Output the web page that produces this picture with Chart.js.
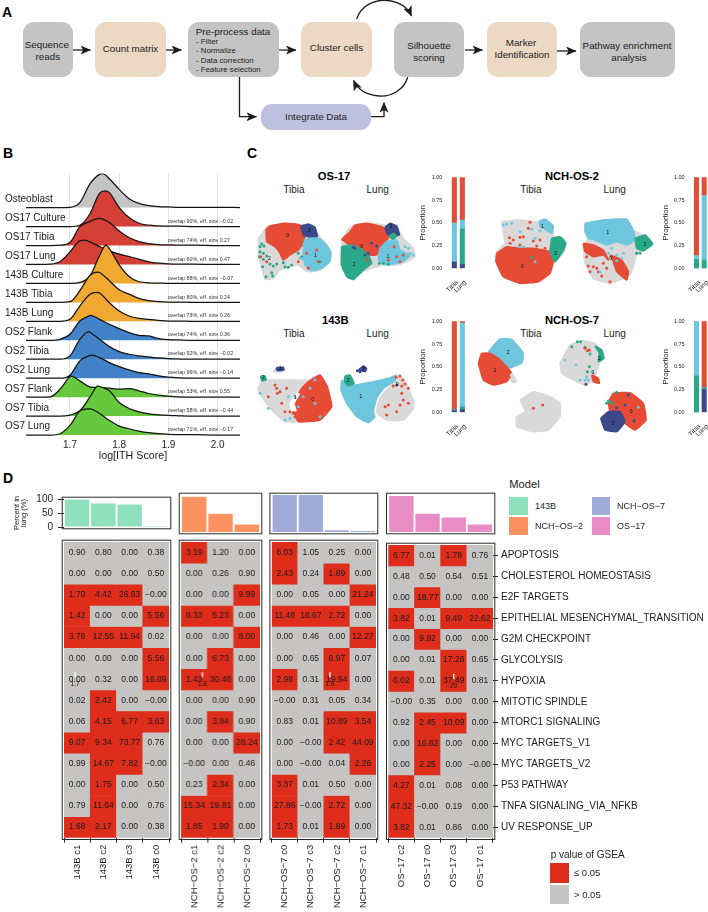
<!DOCTYPE html>
<html><head><meta charset="utf-8">
<script src="https://cdn.jsdelivr.net/npm/chart.js@4"></script>
<style>
html,body{margin:0;padding:0;background:#fff}
#page{position:relative;width:708px;height:912px;overflow:hidden;font-family:"Liberation Sans",Arial,sans-serif;color:#1c1c1c}
canvas{position:absolute}
.t{position:absolute;white-space:nowrap;line-height:1}
.c{transform:translate(-50%,-50%)}
.l{transform:translate(0,-50%)}
.box{position:absolute;border-radius:11px}
.sw{position:absolute}
svg{position:absolute;left:0;top:0}
</style></head><body><div id="page">
<svg width="708" height="140" viewBox="0 0 708 140"><defs>
<marker id="ah" markerUnits="userSpaceOnUse" markerWidth="11" markerHeight="9" refX="10" refY="4.5" orient="auto"><path d="M0,0 L10.5,4.5 L0,9 L2.6,4.5 z" fill="#1c1c1c"/></marker></defs>
<g fill="none" stroke="#1c1c1c" stroke-width="1.3" marker-end="url(#ah)">
<path d="M73,50 H90.5"/><path d="M163,50 H181.5"/><path d="M278,50 H296"/><path d="M465,50 H482.5"/><path d="M557,51 H576"/>
<path d="M239.5,77 V116.7 H256.5"/><path d="M371,116.7 H384 V102.5"/>
<path d="M356.7,19 C361,5 376,-1 388,0.5 C400,2 408,8 411.5,16"/>
<path d="M407.7,77.3 C404,90 391,97 379,96 C367,95 358,90 353.5,80.5"/>
</g></svg>
</div>
<script>
// ---- Panel B: ridgeline densities ----
const ridgeX = [1.61,1.64,1.66,1.68,1.70,1.72,1.74,1.76,1.78,1.80,1.82,1.84,1.86,1.88,1.90,1.92,1.95,2.00,2.05];
const ridgeLabels = ['Osteoblast','OS17 Culture','OS17 Tibia','OS17 Lung','143B Culture','143B Tibia','143B Lung','OS2 Flank','OS2 Tibia','OS2 Lung','OS7 Flank','OS7 Tibia','OS7 Lung'];
const ridgeColors = ['#c4c4c4','#d43f36','#d43f36','#d43f36','#f0a830','#f0a830','#f0a830','#4282c8','#4282c8','#4282c8','#66c83c','#66c83c','#66c83c'];
const ridgeNotes = ['','overlap 90%, eff. size −0.02','overlap 74%, eff. size 0.27','overlap 60%, eff. size 0.47','overlap 88%, eff. size −0.07','overlap 80%, eff. size 0.24','overlap 73%, eff. size 0.26','overlap 74%, eff. size 0.36','overlap 92%, eff. size −0.02','overlap 96%, eff. size −0.14','overlap 53%, eff. size 0.55','overlap 58%, eff. size −0.44','overlap 71%, eff. size −0.17'];
const dOsteoblast = [0,0,0,0,.1,1.5,7,10,8.7,5.5,2.7,1.3,.6,.3,.2,.1,.1,.1,0];
const dOs17Culture = [0,0,0,0,0,.4,3.7,10,10.2,5.7,2.7,1,.4,.2,.1,.1,0,0,0];
const dOs17Tibia = [0,0,0,.1,.9,5.7,7.2,8.2,6.9,4.4,2.4,1.2,.6,.3,.2,.1,.1,0,0];
const dOs17Lung = [0,0,.1,.9,3.8,7.1,6.8,5.4,4.1,3.1,2.4,1.6,.8,.4,.2,.1,.1,0,0];
const d143bCulture = [0,0,0,0,0,.3,2.1,8.3,10.5,5.6,2.1,.5,.2,.1,0,0,0,0,0];
const d143bTibia = [0,0,0,0,.2,3.5,8,9,6.5,3.8,2.5,1.2,.5,.2,.1,.1,0,0,0];
const d143bLung = [0,0,0,0,.6,4.6,8.1,8.5,5.6,3.1,1.6,.9,.6,.3,.1,.1,0,0,0];
const dOs2Flank = [0,0,0,.3,1.8,5.8,7.4,6.3,4.8,3.5,2.3,1.5,1.3,.5,.2,.1,0,0,0];
const dOs2Tibia = [0,0,0,0,1,6,8.2,6,3.8,2.3,1.5,1,.7,.4,.2,.1,0,0,0];
const dOs2Lung = [0,0,0,0,.9,5.2,6.8,6.2,4.7,3.5,2.5,1.7,1.3,.7,.3,.1,0,0,0];
const dOs7Flank = [0,0,.1,2.4,6.2,4.9,3.1,2.9,2.7,2.4,2.6,1.9,1.1,.6,.3,.1,0,0,0];
const dOs7Tibia = [0,0,0,0,.3,1.6,5.6,8.9,7.6,4.1,2.3,1.3,.7,.4,.2,.1,0,0,0];
const dOs7Lung = [0,0,0,.4,2.9,7.2,7.9,6.5,4.4,2.7,1.9,1.2,.7,.4,.2,.1,.1,0,0];
const ridgeDensity = [dOsteoblast,dOs17Culture,dOs17Tibia,dOs17Lung,d143bCulture,d143bTibia,d143bLung,dOs2Flank,dOs2Tibia,dOs2Lung,dOs7Flank,dOs7Tibia,dOs7Lung];
const ridgePeakX = [1.766,1.771,1.759,1.73,1.773,1.756,1.754,1.742,1.739,1.743,1.702,1.757,1.737];
const ridgePeakD = [10.2,10.7,8.2,7.3,11.5,9.1,8.7,7.5,8.3,6.9,6.3,9.1,7.9];

// ---- Panel C: cluster maps, outlines and single cells ----
const UMAP_GRAY='#d9d9d9',UMAP_RED='#e64b35',UMAP_BLUE='#6ec6de',UMAP_GREEN='#2aa88a',UMAP_NAVY='#3c4a8c';
const os17TibiaGray=[[55,295],[75,270],[85,258],[130,250],[180,255],[215,258],[240,290],[265,320],[275,345],[260,375],[235,392],[200,395],[175,375],[150,380],[120,390],[100,415],[75,418],[65,385],[55,350]];
const os17TibiaRed=[[78,268],[90,258],[135,250],[180,255],[195,290],[190,310],[175,330],[150,345],[130,360],[120,340],[105,320],[80,305]];
const os17TibiaNavy=[[182,258],[205,252],[225,262],[232,290],[210,292],[190,285]];
const os17TibiaBlue=[[190,310],[205,295],[235,295],[255,310],[272,335],[270,365],[245,385],[215,392],[195,375],[190,345]];
const os17TibiaGreenDots=[[60,320],[65,312],[72,318],[60,335],[70,340],[58,350],[70,358],[80,348],[68,380],[90,372],[110,372],[100,378],[130,368],[135,380],[145,382],[155,375],[95,398],[78,410],[98,408],[175,340],[185,350],[240,365]];
const os17TibiaRedDots=[[62,350],[80,365],[205,385],[230,330],[235,365],[200,340],[175,365]];
const os17TibiaBlueDots=[[195,300],[180,355],[190,358]];
const os17LungGray=[[305,300],[330,262],[380,250],[430,255],[470,260],[490,295],[520,325],[525,350],[500,365],[470,375],[430,375],[395,385],[370,395],[340,420],[320,410],[302,370]];
const os17LungRed=[[305,298],[330,275],[345,255],[380,250],[430,262],[445,280],[445,295],[420,320],[410,345],[385,345],[350,325],[320,310]];
const os17LungGreen=[[305,320],[335,315],[360,325],[385,345],[395,370],[370,390],[340,418],[322,412],[305,375]];
const os17LungNavy=[[435,262],[450,250],[470,258],[478,285],[455,290],[440,280]];
const os17LungBlue=[[420,325],[440,305],[470,300],[480,330],[510,345],[490,365],[440,375],[415,360]];
const os17LungGreen2=[[448,288],[460,280],[470,288],[458,298]];
const os17LungRedDots=[[462,320],[480,365],[445,360],[470,350],[490,345],[382,360]];
const os17LungNavyDots=[[340,322],[395,310],[410,318],[385,340],[375,345],[345,325]];
const os17LungGreenDots=[[418,370],[430,370],[445,372]];
const os17LungBlueDots=[[495,320],[510,340],[520,345],[505,325],[470,310],[488,335]];
const b143TibiaGray=[[52,745],[70,720],[150,720],[205,720],[240,705],[260,740],[275,800],[240,840],[175,845],[135,845],[100,815],[65,770]];
const b143TibiaGray2=[[100,695],[112,680],[132,685],[125,695]];
const b143TibiaRed=[[205,725],[240,705],[262,740],[275,800],[240,840],[175,845],[160,810],[165,780],[185,745]];
const b143TibiaHole=[[150,790],[170,762],[178,762],[162,790],[168,812],[155,810]];
const b143TibiaNavy=[[108,684],[130,682],[132,690],[112,692]];
const b143TibiaGreen=[[62,708],[75,708],[78,720],[65,722]];
const b143TibiaRedDots=[[110,745],[105,735],[112,760],[85,770],[120,755],[135,815],[150,815],[160,820],[165,830],[125,790],[140,745]];
const b143TibiaBlueDots=[[60,760],[85,805],[135,840],[150,835],[145,770],[210,745],[225,720],[240,830],[225,790],[165,770],[175,800],[190,770]];
const b143LungBlue=[[305,720],[320,735],[345,735],[400,725],[445,715],[470,705],[470,720],[430,745],[410,775],[400,815],[405,830],[385,848],[350,830],[320,790],[303,750]];
const b143LungGray=[[470,705],[490,715],[520,780],[520,805],[490,840],[440,840],[418,825],[410,815],[420,775],[440,750],[470,722]];
const b143LungGreen=[[315,708],[330,705],[342,730],[325,738],[313,725]];
const b143LungNavy=[[355,690],[370,678],[380,685],[375,695]];
const b143LungRedDots=[[468,712],[480,708],[488,720],[495,732],[485,738],[460,738],[435,800],[445,795],[485,760],[505,745],[490,780],[480,795],[470,815],[440,825],[505,790]];
const b143LungNavyDots=[[470,735],[360,695],[352,692]];
const os2TibiaGray=[[95,245],[150,240],[200,245],[225,238],[250,260],[250,290],[280,295],[285,330],[255,365],[240,400],[205,425],[150,430],[100,410],[78,365],[80,335],[105,310],[100,280]];
const os2TibiaRed=[[80,340],[110,320],[150,325],[190,325],[240,335],[250,360],[240,400],[205,425],[150,430],[100,410],[78,365]];
const os2TibiaGreen=[[245,295],[270,290],[288,310],[275,340],[255,365],[240,335]];
const os2TibiaBlue=[[208,245],[225,238],[250,258],[245,280],[225,268],[210,260]];
const os2TibiaRedDots=[[180,247],[118,293],[130,300],[150,292],[160,290],[190,303],[210,300],[175,265],[225,325],[120,310],[150,315],[200,318]];
const os2TibiaBlueDots=[[100,255],[110,252],[125,250],[185,268],[150,275],[195,295],[210,272],[160,320],[145,320],[195,365]];
const os2TibiaGreenDots=[[185,352],[245,320]];
const os2LungGray=[[345,250],[400,240],[470,238],[490,270],[530,290],[545,315],[520,330],[500,345],[480,405],[420,430],[370,415],[345,370],[340,320],[355,295]];
const os2LungBlue=[[345,250],[400,240],[470,238],[490,270],[495,300],[470,315],[440,305],[410,315],[375,300],[355,295],[345,275]];
const os2LungGreen=[[495,295],[525,285],[548,312],[520,332],[500,325]];
const os2LungRed=[[340,310],[370,315],[400,330],[415,360],[400,345],[370,350],[345,335]];
const os2LungRed2=[[420,345],[455,360],[475,395],[470,420],[440,395],[430,365]];
const os2LungRedDots=[[355,378],[370,380],[380,385],[360,395],[385,395],[395,408],[420,425],[400,370],[350,350],[410,385]];
const os2LungBlueDots=[[390,395],[440,345],[460,340],[440,362],[455,355],[415,340],[425,325]];
const os2LungGreenDots=[[500,340],[510,340]];
const os7TibiaBlue=[[55,635],[90,597],[125,598],[160,640],[155,670],[130,680],[110,685],[85,650]];
const os7TibiaRed=[[25,670],[35,640],[60,640],[85,655],[110,680],[125,700],[110,725],[70,735],[40,720]];
const os7TibiaTail=[[125,700],[140,725],[130,728],[118,715]];
const os7TibiaGray=[[150,780],[190,755],[240,770],[270,790],[270,830],[235,870],[190,875],[140,860],[140,830],[165,815]];
const os7TibiaRedDots=[[190,805],[218,795],[118,712]];
const os7LungGray=[[270,670],[300,615],[340,602],[375,610],[400,640],[385,680],[370,720],[345,735],[310,720],[275,700]];
const os7LungGreen=[[375,618],[395,630],[402,655],[385,665],[388,640]];
const os7LungRed=[[365,705],[385,715],[388,730],[370,725]];
const os7LungBigRed=[[415,785],[430,760],[480,758],[520,790],[528,840],[495,870],[465,850],[450,815],[420,815]];
const os7LungBigNavy=[[392,835],[415,815],[450,815],[465,845],[440,875],[405,870]];
const os7LungGreenDots=[[305,620],[322,605],[332,605],[345,622],[360,642],[358,680],[352,695],[410,790],[420,785],[430,790],[440,757],[415,783]];
const os7LungRedDots=[[345,625],[352,632],[358,630]];
const os7LungBlueDots=[[285,660],[318,675],[330,720],[350,710],[345,720],[365,695],[355,720],[505,802]];
const os7LungNavyDots=[[348,733],[475,765],[465,795],[440,803],[492,842]];

const propCategories=['Tibia','Lung'];
const os17Navy=[.07,.04],os17Green=[0,.39],os17Blue=[.43,.10],os17Red=[.50,.47];
const os2Navy=[0,0],os2Green=[.10,.09],os2Blue=[.04,.71],os2Red=[.86,.20];
const b143Navy=[.02,.03],b143Green=[.01,.03],b143Blue=[0,.92],b143Red=[.97,.02];
const os7Navy=[0,.25],os7Green=[.40,.02],os7Blue=[.60,0],os7Red=[0,.73];

// ---- Panel D ----
const pathways=['APOPTOSIS','CHOLESTEROL HOMEOSTASIS','E2F TARGETS','EPITHELIAL MESENCHYMAL_TRANSITION','G2M CHECKPOINT','GLYCOLYSIS','HYPOXIA','MITOTIC SPINDLE','MTORC1 SIGNALING','MYC TARGETS_V1','MYC TARGETS_V2','P53 PATHWAY','TNFA SIGNALING_VIA_NFKB','UV RESPONSE_UP'];
const N0=-0.001; // printed as −0.00
const clusters143B=['143B c1','143B c2','143B c3','143B c0'];
const percent143B=[98,84,80,3];
const gsea143B=[[.90,.80,0,.38],[0,0,0,.50],[1.70,4.42,26.63,N0],[1.42,0,0,5.56],[3.76,12.55,11.94,.02],[0,0,0,5.56],[0,.32,0,16.89],[.02,2.42,0,N0],[.06,4.15,6.77,3.63],[9.07,9.34,73.77,.76],[.99,14.67,7.82,N0],[0,1.75,0,.50],[.79,11.64,0,.76],[1.68,2.17,0,.38]];
const clustersOs2=['NCH−OS−2 c1','NCH−OS−2 c2','NCH−OS−2 c0'];
const percentOs2=[95,49,20];
const gseaOs2=[[3.19,1.20,0],[0,.26,.90],[0,0,9.99],[8.33,5.23,0],[0,0,8.00],[0,6.73,0],[1.43,30.48,0],[0,0,.90],[0,3.94,.90],[0,0,28.24],[N0,0,.46],[.23,2.34,0],[15.34,19.81,0],[1.85,1.90,0]];
const clustersOs7=['NCH−OS−7 c0','NCH−OS−7 c3','NCH−OS−7 c2','NCH−OS−7 c1'];
const percentOs7=[100,100,5,3];
const gseaOs7=[[6.03,1.05,.25,0],[2.43,.24,1.89,0],[0,.05,0,21.24],[11.48,18.67,2.72,0],[0,.46,0,12.27],[0,.65,6.97,.07],[2.98,.31,19.94,0],[N0,.31,.05,.34],[.83,.01,10.89,3.54],[0,N0,2.42,44.09],[0,N0,.04,2.26],[3.37,.01,.50,0],[27.86,N0,2.72,0],[1.73,.01,1.89,0]];
const clustersOs17=['OS−17 c2','OS−17 c0','OS−17 c3','OS−17 c1'];
const percentOs17=[97,49,39,20];
const gseaOs17=[[6.77,.01,1.78,.76],[.48,.50,.54,.51],[0,18.77,0,0],[3.82,.01,9.49,22.62],[0,9.92,0,0],[0,.01,17.26,.65],[6.02,.01,37.49,.81],[N0,.35,0,0],[.92,2.45,10.09,0],[0,16.82,0,0],[0,2.25,0,N0],[4.27,.01,.08,0],[47.32,N0,.19,0],[3.82,.01,.86,0]];
const SIG_THRESHOLD=1.3; // −log10(0.05)

// ---- helpers ----
const FONT='"Liberation Sans",Arial,sans-serif', INK='#1c1c1c';
Chart.defaults.font.family=FONT; Chart.defaults.color=INK;
Chart.defaults.animation=false; Chart.defaults.responsive=false; Chart.defaults.devicePixelRatio=1;
Chart.defaults.plugins.legend.display=false; Chart.defaults.plugins.tooltip.enabled=false;
Chart.defaults.layout.autoPadding=false; Chart.defaults.events=[];
const page=document.getElementById('page');
function mount(left,top,w,h){const c=document.createElement('canvas');c.width=w;c.height=h;c.style.left=left+'px';c.style.top=top+'px';c.style.width=w+'px';c.style.height=h+'px';page.appendChild(c);return c;}
function txt(s,x,y,size,cls,extra){const d=document.createElement('div');d.className='t '+(cls||'c');d.textContent=s;d.style.left=x+'px';d.style.top=y+'px';d.style.fontSize=size+'px';if(extra)Object.assign(d.style,extra);page.appendChild(d);return d;}
function box(x0,x1,y0,y1,col){const d=document.createElement('div');d.className='box';Object.assign(d.style,{left:x0+'px',top:y0+'px',width:(x1-x0)+'px',height:(y1-y0)+'px',background:col});page.appendChild(d);}
function swatch(x,y,w,h,col){const d=document.createElement('div');d.className='sw';Object.assign(d.style,{left:x+'px',top:y+'px',width:w+'px',height:h+'px',background:col});page.appendChild(d);}

// Panel letters
[['A',2,12],['B',3,153],['C',247,153],['D',3,478]].forEach(([s,x,y])=>txt(s,x,y,14,'l',{fontWeight:'bold',color:'#000'}));

// Panel A flow chart
const GR='#c4c4c4',TAN='#ecd9c3',LAV='#bfc0e0';
box(22.7,72.7,22.3,77.3,GR);box(95,165.7,22.3,77.3,TAN);box(187.7,279,22.3,77.3,GR);box(301,371.7,22.3,77.3,TAN);box(394,464.3,22.3,77.3,GR);box(486.7,557.3,22.3,77.3,TAN);box(579.7,674.7,22.3,77.3,GR);box(260.7,370.7,104,130,LAV);
[['Sequence',46.8,45],['reads',47.8,56.8],['Count matrix',130.5,49],['Cluster cells',336.5,47.7],['Silhouette',429,45.5],['scoring',429,57.5],['Marker',521,43],['Identification',522,55],['Pathway enrichment',627,45.5],['analysis',629,58],['Integrate Data',316,116.7]].forEach(([s,x,y])=>txt(s,x,y,9.8));
txt('Pre-process data',195.7,31.7,9.8,'l');
[['- Filter',41.7],['- Normalize',51.2],['- Data correction',60.7],['- Feature selection',70.2]].forEach(([s,y])=>txt(s,196,y,7.8,'l'));

// Panel B
const ridgeBase=i=>12-i, DENS_PER_ROW=5.7;
const ridgeDatasets=ridgeDensity.map((d,i)=>{
  const pts=ridgeX.map((x,j)=>({x,y:ridgeBase(i)+d[j]/DENS_PER_ROW}));
  pts.push({x:ridgePeakX[i],y:ridgeBase(i)+ridgePeakD[i]/DENS_PER_ROW});
  pts.sort((a,b)=>a.x-b.x);
  return {data:pts,borderColor:'#141414',borderWidth:1.25,pointRadius:0,cubicInterpolationMode:'monotone',
    backgroundColor:ridgeColors[i],fill:{value:ridgeBase(i)},order:100-i};
});
const ridgeNotesPlugin={id:'notes',afterDatasetsDraw(ch){const c=ch.ctx;c.save();c.font='5.3px '+FONT;c.fillStyle='#333';c.textBaseline='middle';c.textAlign='left';
  ridgeNotes.forEach((s,i)=>{if(s)c.fillText(s,ch.scales.x.getPixelForValue(1.8985),ch.scales.y.getPixelForValue(ridgeBase(i)+.28));});c.restore();}};
new Chart(mount(0,160,240,310),{type:'line',data:{datasets:ridgeDatasets},plugins:[ridgeNotesPlugin],options:{
  layout:{padding:{top:13.5}},
  scales:{
    x:{type:'linear',min:1.6106,max:2.0455,afterFit:s=>{s.height=34},border:{display:false},
      grid:{color:'#e4e4e4',lineWidth:1,drawTicks:false},
      ticks:{stepSize:.1,includeBounds:false,padding:3,font:{size:10},callback:v=>v.toFixed(1)},
      title:{display:true,text:'log[ITH Score]',font:{size:10.7},padding:{top:0,bottom:7.6}}},
    y:{type:'linear',min:-.05,max:13.8,afterFit:s=>{s.width=26},border:{display:false},grid:{display:false},
      afterBuildTicks:s=>{s.ticks=ridgeLabels.map((_,i)=>({value:ridgeBase(i)+.44}))},
      ticks:{mirror:true,padding:-21,autoSkip:false,font:{size:10},callback:(v,i)=>ridgeLabels[i]}}
  }}});

// Panel C titles
[['OS-17',334,177],['143B',335.3,320.5],['NCH-OS-2',572,176.7],['NCH-OS-7',572,320.5]].forEach(([s,x,y])=>txt(s,x,y,11.2,'c',{fontWeight:'bold',color:'#000'}));
[[294,190],[294,334],[531,190],[531,334]].forEach(([x,y])=>txt('Tibia',x,y,10));
[[377.7,190],[377.7,334],[614.7,190],[614.7,334]].forEach(([x,y])=>txt('Lung',x,y,10));

function umap(left,top,xr,yr,regions,dots,labels){
  const w=(xr[1]-xr[0])/3,h=(yr[1]-yr[0])/3,ds=[];
  regions.forEach(([col,pts])=>ds.push({data:pts.concat([pts[0]]).map(p=>({x:p[0],y:p[1]})),showLine:true,borderColor:col,borderWidth:1.5,backgroundColor:col,fill:'shape',tension:.12,pointRadius:0,clip:false}));
  dots.forEach(([col,pts])=>ds.push({data:pts.map(p=>({x:p[0],y:p[1]})),showLine:false,backgroundColor:col,borderWidth:0,pointRadius:1.5,clip:false}));
  ds.forEach((d,i)=>d.order=ds.length-i);
  const lab={id:'lab',afterDatasetsDraw(ch){const c=ch.ctx;c.save();c.font='5.5px '+FONT;c.fillStyle='#111';c.textAlign='center';c.textBaseline='middle';
    labels.forEach(([x,y,s])=>c.fillText(s,ch.scales.x.getPixelForValue(x),ch.scales.y.getPixelForValue(y)));c.restore();}};
  new Chart(mount(left,top,w,h),{type:'scatter',data:{datasets:ds},plugins:[lab],options:{scales:{
    x:{type:'linear',display:false,min:xr[0],max:xr[1]},y:{type:'linear',display:false,min:yr[0],max:yr[1],reverse:true}}}});
}
umap(255,218,[45,285],[234,429],[[UMAP_GRAY,os17TibiaGray],[UMAP_RED,os17TibiaRed],[UMAP_NAVY,os17TibiaNavy],[UMAP_BLUE,os17TibiaBlue]],[[UMAP_GREEN,os17TibiaGreenDots],[UMAP_RED,os17TibiaRedDots],[UMAP_BLUE,os17TibiaBlueDots]],[[143,285,'0'],[207,270,'3'],[226,345,'1'],[88,354,'2']]);
umap(339,218,[297,534],[234,429],[[UMAP_GRAY,os17LungGray],[UMAP_RED,os17LungRed],[UMAP_GREEN,os17LungGreen],[UMAP_NAVY,os17LungNavy],[UMAP_BLUE,os17LungBlue],[UMAP_GREEN,os17LungGreen2]],[[UMAP_RED,os17LungRedDots],[UMAP_NAVY,os17LungNavyDots],[UMAP_GREEN,os17LungGreenDots],[UMAP_BLUE,os17LungBlueDots]],[[365,318,'0'],[342,373,'2'],[444,348,'1'],[452,259,'3']]);
umap(255,362,[45,285],[666,855],[[UMAP_GRAY,b143TibiaGray],[UMAP_GRAY,b143TibiaGray2],[UMAP_RED,b143TibiaRed],[UMAP_NAVY,b143TibiaNavy],[UMAP_GREEN,b143TibiaGreen],['#ffffff',b143TibiaHole]],[[UMAP_RED,b143TibiaRedDots],[UMAP_BLUE,b143TibiaBlueDots]],[[218,777,'0'],[120,685,'3'],[70,712,'2'],[166,773,'1']]);
umap(339,362,[297,534],[666,855],[[UMAP_BLUE,b143LungBlue],[UMAP_GRAY,b143LungGray],[UMAP_GREEN,b143LungGreen],[UMAP_NAVY,b143LungNavy]],[[UMAP_RED,b143LungRedDots],[UMAP_NAVY,b143LungNavyDots]],[[362,770,'1'],[324,720,'2'],[370,686,'3'],[472,733,'0']]);
umap(494,217,[72,294],[231,435],[[UMAP_GRAY,os2TibiaGray],[UMAP_RED,os2TibiaRed],[UMAP_GREEN,os2TibiaGreen],[UMAP_BLUE,os2TibiaBlue]],[[UMAP_RED,os2TibiaRedDots],[UMAP_BLUE,os2TibiaBlueDots],[UMAP_GREEN,os2TibiaGreenDots]],[[157,379,'0'],[217,260,'1'],[257,340,'2']]);
umap(582,217,[336,552],[231,435],[[UMAP_GRAY,os2LungGray],[UMAP_BLUE,os2LungBlue],[UMAP_GREEN,os2LungGreen],[UMAP_RED,os2LungRed],[UMAP_RED,os2LungRed2]],[[UMAP_RED,os2LungRedDots],[UMAP_BLUE,os2LungBlueDots],[UMAP_GREEN,os2LungGreenDots]],[[413,277,'1'],[422,356,'0'],[525,314,'2']]);
umap(475,337,[15,282],[591,882],[[UMAP_BLUE,os7TibiaBlue],[UMAP_RED,os7TibiaRed],[UMAP_GRAY,os7TibiaTail],[UMAP_GRAY,os7TibiaGray]],[[UMAP_RED,os7TibiaRedDots]],[[75,692,'1'],[114,638,'2']]);
umap(558,337,[264,534],[591,882],[[UMAP_GRAY,os7LungGray],[UMAP_GREEN,os7LungGreen],[UMAP_RED,os7LungRed],[UMAP_RED,os7LungBigRed],[UMAP_NAVY,os7LungBigNavy]],[[UMAP_GREEN,os7LungGreenDots],[UMAP_RED,os7LungRedDots],[UMAP_BLUE,os7LungBlueDots],[UMAP_NAVY,os7LungNavyDots]],[[388,656,'2'],[369,697,'1'],[483,814,'0'],[428,851,'3']]);

function propBars(left,top,w,h,plotLeft,plotW,plotTop,plotH,titleX,navy,green,blue,red){
  const mk=(d,c)=>({data:d,backgroundColor:c,barThickness:4.4,stack:'s'});
  const xLabels={id:'xl',afterDraw(ch){const c=ch.ctx,X=ch.scales.x,b=ch.chartArea.bottom;c.save();c.font='6.5px '+FONT;c.fillStyle=INK;c.textAlign='right';c.textBaseline='middle';
    propCategories.forEach((s,i)=>{c.save();c.translate(X.getPixelForValue(i)+3,b+13);c.rotate(-Math.PI/4);c.fillText(s,0,0);c.restore();});c.restore();}};
  new Chart(mount(left,top,w,h),{type:'bar',data:{labels:propCategories,datasets:[mk(navy,UMAP_NAVY),mk(green,UMAP_GREEN),mk(blue,UMAP_BLUE),mk(red,UMAP_RED)]},plugins:[xLabels],options:{
    layout:{padding:{top:plotTop-top,right:w-(plotLeft-left)-plotW}},
    scales:{
      x:{stacked:true,afterFit:s=>{s.height=h-(plotTop-top)-plotH},border:{display:false},grid:{display:false,drawTicks:false},
        ticks:{display:false}},
      y:{stacked:true,min:0,max:1,afterFit:s=>{s.width=plotLeft-left},border:{display:false},grid:{display:false,drawTicks:false},
        ticks:{stepSize:.25,padding:8,font:{size:5.5},callback:v=>v.toFixed(2)},
        title:{display:true,text:'Proportion',font:{size:7.7},padding:{top:titleX-left-4.6,bottom:0}}}
    }}});
}
propBars(412,166,64,132,450.33,16,174,94.33,423.3,os17Navy,os17Green,os17Blue,os17Red);
propBars(412,310,64,132,450.33,16,317.67,94.67,423.3,b143Navy,b143Green,b143Blue,b143Red);
propBars(650,166,58,132,692.67,15.33,174,94.33,666,os2Navy,os2Green,os2Blue,os2Red);
propBars(650,310,58,132,692.67,15.33,317.67,94.67,666,os7Navy,os7Green,os7Blue,os7Red);

// Panel D
const panelBorder={id:'pb',afterDraw(ch){const a=ch.chartArea,c=ch.ctx;c.save();c.strokeStyle='#2a2a2a';c.lineWidth=1;c.strokeRect(a.left-1.8,a.top-1.8,a.right-a.left+3.6,a.bottom-a.top+3.6);c.restore();}};
const HEAT_RED='#de2d1a',HEAT_GRAY='#c6c3c3';
function topBars(left,plotLeft,plotW,labels,vals,color,withAxis){
  const top=488,h=50;
  new Chart(mount(left,top,plotLeft-left+plotW+5,h),{type:'bar',data:{labels,datasets:[{data:vals,backgroundColor:color,barPercentage:.93,categoryPercentage:1}]},plugins:[panelBorder],options:{
    layout:{padding:{top:7,bottom:6,right:5,left:withAxis?0:plotLeft-left}},
    scales:{x:{display:false},
      y:withAxis?{min:0,max:100,afterFit:s=>{s.width=plotLeft-left},border:{display:false},grid:{drawOnChartArea:false,tickLength:6,color:'#2a2a2a'},
        ticks:{stepSize:25,padding:5,font:{size:10}},
        title:{display:true,text:['Percent in','lung (%)'],font:{size:7.6,lineHeight:1},padding:{top:13,bottom:0}}}
        :{display:false,min:0,max:100}}}});
}
function heat(left,plotLeft,plotW,labels,values,stray,withLabels){
  const top=536,h=376,rightW=withLabels?212:5;
  const ds=values.map((row,r)=>({data:row.map(()=>[r,r+1]),backgroundColor:row.map(v=>v>=SIG_THRESHOLD?HEAT_RED:HEAT_GRAY),barPercentage:1,categoryPercentage:1,grouped:false}));
  const cellText={id:'ct',afterDatasetsDraw(ch){const c=ch.ctx,X=ch.scales.x,Y=ch.scales.y;c.save();c.font='8.5px '+FONT;c.fillStyle='#1a1a1a';c.textAlign='center';c.textBaseline='middle';
    values.forEach((row,r)=>row.forEach((v,j)=>c.fillText(v.toFixed(2).replace('-','−'),X.getPixelForValue(j),Y.getPixelForValue(r+.5))));
    const px=X.getPixelForValue(stray[0])+stray[1],py=Y.getPixelForValue(6.5);
    c.fillStyle='#ffffff';c.fillRect(px-.6,py-7,1.3,5);c.fillStyle='#1a1a1a';c.font='6.5px '+FONT;c.fillText(stray[2],px,py+5);c.restore();}};
  new Chart(mount(left,top,plotLeft-left+plotW+rightW,h),{type:'bar',data:{labels,datasets:ds},plugins:[cellText,panelBorder],options:{
    layout:{padding:{top:6,left:plotLeft-left,right:withLabels?0:5}},
    scales:{
      x:{afterFit:s=>{s.height=376-6-295.7},border:{display:false},grid:{drawOnChartArea:false,tickLength:5,color:'#2a2a2a'},
        ticks:{minRotation:90,maxRotation:90,padding:2,autoSkip:false,font:{size:9.5}}},
      y:withLabels?{type:'linear',position:'right',min:0,max:14,reverse:true,afterFit:s=>{s.width=rightW},border:{display:false},
        grid:{drawOnChartArea:false,tickLength:5,color:'#2a2a2a'},
        afterBuildTicks:s=>{s.ticks=pathways.map((_,i)=>({value:i+.5}))},
        ticks:{padding:3,autoSkip:false,font:{size:10},callback:(v,i)=>pathways[i]}}
        :{type:'linear',display:false,min:0,max:14,reverse:true}
    }}});
}
const C143='#8fe0bd',COS2='#fc925f',COS7='#a0acd8',COS17='#e88cc4';
topBars(0,64,105,clusters143B,percent143B,C143,true);
topBars(176,181,78.7,clustersOs2,percentOs2,COS2,false);
topBars(267,271.7,104.6,clustersOs7,percentOs7,COS7,false);
topBars(384,388.3,105,clustersOs17,percentOs17,COS17,false);
heat(58,64,105,clusters143B,gsea143B,[0,-2,'1.7'],false);
heat(176,181,78.7,clustersOs2,gseaOs2,[0,8,'1.8'],false);
heat(267,271.7,104.6,clustersOs7,gseaOs7,[2,-7,'1.9'],false);
heat(384,388.3,105,clustersOs17,gseaOs17,[2,0,'20'],true);

// Legends
txt('Model',509.3,484.7,11.2,'l');
swatch(509.3,497,18.4,18.4,C143);swatch(509.3,516.7,18.4,18.4,COS2);swatch(592,497,18.4,18.4,COS7);swatch(592,516.7,18.4,18.4,COS17);
txt('143B',535,506.3,9,'l');txt('NCH−OS−2',535,526,9,'l');txt('NCH−OS−7',617,506.3,9,'l');txt('OS−17',617,526,9,'l');
txt('p value of GSEA',550.7,855,10,'l');
swatch(550,862.7,19.4,20,HEAT_RED);swatch(550,885,19.4,19.4,HEAT_GRAY);
txt('≤ 0.05',574,873,9.5,'l');txt('> 0.05',574,895,9.5,'l');
</script></body></html>
